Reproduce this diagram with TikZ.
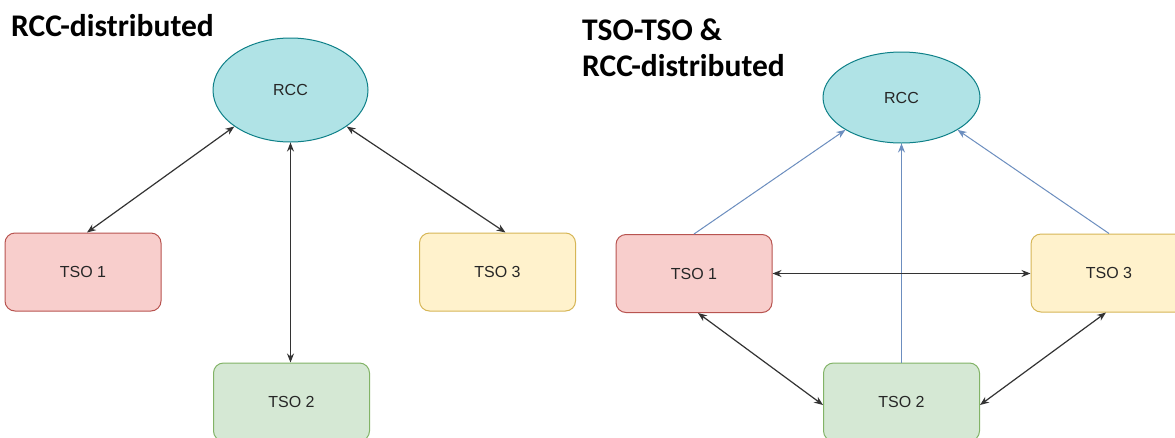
\documentclass[tikz,border=0pt]{standalone}
\usepackage{fontspec}
\setmainfont{Liberation Sans}
\newfontfamily\titlefont{Carlito}
\usetikzlibrary{shapes.geometric,arrows.meta}
\definecolor{rccfill}{HTML}{B0E3E6}
\definecolor{rccdraw}{HTML}{0E8088}
\definecolor{redfill}{HTML}{F8CECC}
\definecolor{reddraw}{HTML}{B85450}
\definecolor{greenfill}{HTML}{D5E8D4}
\definecolor{greendraw}{HTML}{82B366}
\definecolor{yellowfill}{HTML}{FFF2CC}
\definecolor{yellowdraw}{HTML}{D6B656}
\definecolor{bluearrow}{HTML}{6C8EBF}
\definecolor{darkline}{HTML}{333333}
\tikzset{
  lbl/.style={font=\fontsize{16}{18}\selectfont, text=black!85},
  rccnode/.style={ellipse, draw=rccdraw, fill=rccfill, line width=1pt, inner sep=0pt, lbl},
  tsobox/.style={rectangle, rounded corners=10pt, line width=1pt, inner sep=0pt, lbl, minimum width=156pt, minimum height=78pt},
  tsored/.style={tsobox, draw=reddraw, fill=redfill},
  tsogreen/.style={tsobox, draw=greendraw, fill=greenfill},
  tsoyellow/.style={tsobox, draw=yellowdraw, fill=yellowfill},
  biarrow/.style={draw=darkline, line width=1.2pt, {Stealth[length=9pt,width=7pt]}-{Stealth[length=9pt,width=7pt]}},
  bluearr/.style={draw=bluearrow, line width=1pt, -{Stealth[length=9pt,width=7pt]}},
  title/.style={font=\titlefont\bfseries\fontsize{31.5}{36}\selectfont, anchor=base west, inner sep=0pt, align=left}
}
\begin{document}
\begin{tikzpicture}[x=1pt,y=-1pt]
\useasboundingbox (0,0) rectangle (1175,437);
\clip (0,0) rectangle (1175,437);
\fill[white] (0,0) rectangle (1175,437);

% ---------- left diagram ----------
\node[title] (titleL) at (11,36) {RCC-distributed};
\node[rccnode, minimum width=155pt, minimum height=104pt] (rccL) at (290.5,90) {RCC};
\node[tsored] (t1L) at (83,272) {TSO 1};
\node[tsoyellow] (t3L) at (497.5,272) {TSO 3};
\node[tsogreen] (t2L) at (291.5,402) {TSO 2};

\draw[biarrow] (rccL.213) -- ([xshift=4pt]t1L.north);
\draw[biarrow] (rccL.south) -- (rccL.south |- t2L.north);
\draw[biarrow] (rccL.327) -- ([xshift=8pt]t3L.north);

% ---------- right diagram ----------
\node[title] (titleR1) at (582,40) {TSO-TSO \&};
\node[title] (titleR2) at (582,76) {RCC-distributed};
\node[rccnode, minimum width=157pt, minimum height=91pt] (rccR) at (901.5,97.5) {RCC};
\node[tsored] (t1R) at (694,273.5) {TSO 1};
\node[tsoyellow] (t3R) at (1109,273) {TSO 3};
\node[tsogreen] (t2R) at (901.5,402) {TSO 2};

\draw[bluearr] (t1R.north) -- (rccR.210);
\draw[bluearr] (t2R.north) -- (t2R.north |- rccR.south);
\draw[bluearr] (t3R.north) -- (rccR.330);

\draw[biarrow] (t1R.east) -- (t1R.east -| t3R.west);
\draw[biarrow] ([xshift=4pt]t1R.south) -- ([yshift=-3pt]t2R.west);
\draw[biarrow] ([xshift=-3pt]t3R.south) -- ([yshift=-3pt]t2R.east);
\end{tikzpicture}
\end{document}
